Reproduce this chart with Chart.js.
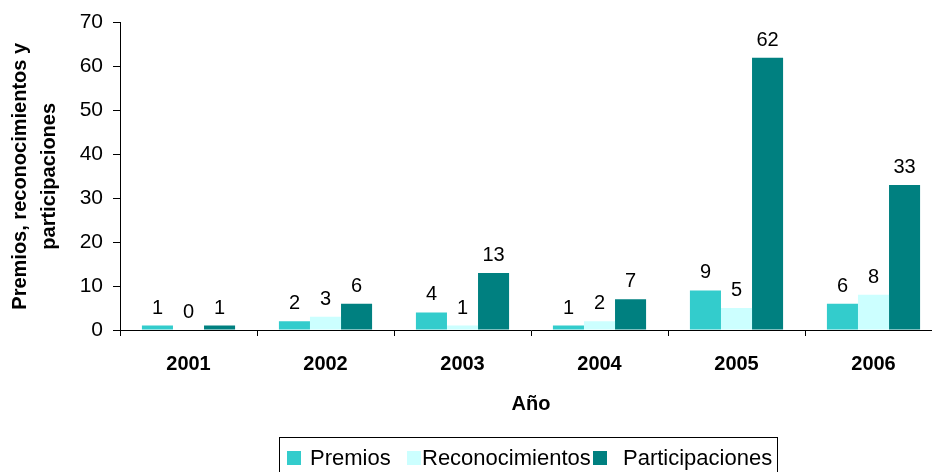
<!DOCTYPE html>
<html>
<head>
<meta charset="utf-8">
<script src="https://cdn.jsdelivr.net/npm/chart.js@4.4.1/dist/chart.umd.min.js"></script>
<style>
    html, body { margin: 0; padding: 0; background: #fff; overflow: hidden; }
    /* the plot runs a little past the right edge of the picture, so the canvas is wider and clipped */
    #wrap { position: relative; width: 932px; height: 472px; overflow: hidden; }
    #legend {
        position: absolute; left: 279px; top: 437px; width: 499px; height: 50px;
        border: 1px solid #000; box-sizing: border-box;
        font-family: "Liberation Sans", Arial, sans-serif; font-size: 22px; color: #000;
    }
    #legend span.box { position: absolute; top: 13px; width: 14px; height: 14px; }
    #legend span.txt { position: absolute; top: 7px; white-space: nowrap; }
</style>
</head>
<body>
<div id="wrap">
    <canvas id="chart" width="942" height="472"></canvas>
    <div id="legend"></div>
</div>
<script>
// Data
const years = ['2001', '2002', '2003', '2004', '2005', '2006'];
const premios = [1, 2, 4, 1, 9, 6];
const reconocimientos = [0, 3, 1, 2, 5, 8];
const participaciones = [1, 6, 13, 7, 62, 33];
const yTicks = [0, 10, 20, 30, 40, 50, 60, 70];

const seriesNames = ['Premios', 'Reconocimientos', 'Participaciones'];
const seriesColors = ['#33CCCC', '#CCFFFF', '#008080'];

const FONT = '"Liberation Sans", Arial, sans-serif';

// Value labels above each bar
const valueLabels = {
    id: 'valueLabels',
    afterDatasetsDraw(chart) {
        const ctx = chart.ctx;
        ctx.save();
        ctx.font = '20px ' + FONT;
        ctx.fillStyle = '#000';
        ctx.textAlign = 'center';
        ctx.textBaseline = 'alphabetic';
        chart.data.datasets.forEach((ds, i) => {
            chart.getDatasetMeta(i).data.forEach((bar, j) => {
                ctx.fillText(String(ds.data[j]), bar.x, bar.y - 12);
            });
        });
        ctx.restore();
    }
};

const chart = new Chart(document.getElementById('chart').getContext('2d'), {
    type: 'bar',
    data: {
        labels: years,
        datasets: [
            { label: seriesNames[0], data: premios, backgroundColor: seriesColors[0] },
            { label: seriesNames[1], data: reconocimientos, backgroundColor: seriesColors[1] },
            { label: seriesNames[2], data: participaciones, backgroundColor: seriesColors[2] }
        ]
    },
    options: {
        responsive: false,
        animation: false,
        events: [],
        layout: { padding: { left: 2, top: 22, right: 0, bottom: 52 } },
        datasets: { bar: { categoryPercentage: 0.68, barPercentage: 1.0 } },
        plugins: { legend: { display: false }, tooltip: { enabled: false } },
        scales: {
            x: {
                afterFit: (s) => { s.height = 90; },
                border: { color: '#000', width: 1 },
                grid: { drawOnChartArea: false, drawTicks: true, tickLength: 6, color: '#000', offset: true },
                ticks: { color: '#000', padding: 16, font: { family: FONT, size: 20, weight: 'bold' } },
                title: {
                    display: true, text: 'Año', color: '#000',
                    font: { family: FONT, size: 20, weight: 'bold' },
                    padding: { top: 0, bottom: 4 }
                }
            },
            y: {
                min: 0, max: 70,
                afterFit: (s) => { s.width = 118; },
                afterBuildTicks: (s) => { s.ticks = yTicks.map(v => ({ value: v })); },
                border: { color: '#000', width: 1 },
                grid: { drawOnChartArea: false, drawTicks: true, tickLength: 7, color: '#000' },
                ticks: { color: '#000', padding: 10, font: { family: FONT, size: 21 } },
                title: {
                    display: true, text: ['Premios, reconocimientos y', 'participaciones'], color: '#000',
                    font: { family: FONT, size: 20, weight: 'bold', lineHeight: 1.45 },
                    padding: { top: 4, bottom: 0 }
                }
            }
        }
    },
    plugins: [valueLabels]
});

// HTML legend
const legendEl = document.getElementById('legend');
const boxX = [7, 127, 313];
const txtX = [30, 142, 343];
seriesNames.forEach((name, i) => {
    const box = document.createElement('span');
    box.className = 'box';
    box.style.left = boxX[i] + 'px';
    box.style.background = seriesColors[i];
    const txt = document.createElement('span');
    txt.className = 'txt';
    txt.style.left = txtX[i] + 'px';
    txt.textContent = name;
    legendEl.appendChild(box);
    legendEl.appendChild(txt);
});
</script>
</body>
</html>
